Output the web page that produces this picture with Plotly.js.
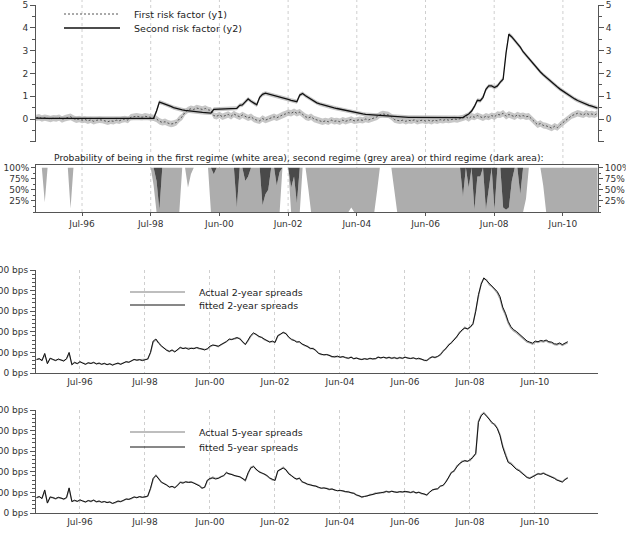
<!DOCTYPE html>
<html>
<head>
<meta charset="utf-8">
<script src="https://cdn.plot.ly/plotly-3.0.1.min.js"></script>
<style>
  html, body { margin: 0; padding: 0; background: #fff; }
  #chart { width: 626px; height: 551px; }
</style>
</head>
<body>
<div id="chart"></div>
<script>
// ---- data: monthly observations, March 1995 to July 2011 (197 months) ----
const startYear = 1995, startMonth = 3, monthCount = 197;

const tickDates  = ['1996-07-01','1998-07-01','2000-06-30','2002-06-30','2004-06-29','2006-06-29','2008-06-28','2010-06-28'];
const tickLabels = ['Jul-96','Jul-98','Jun-00','Jun-02','Jun-04','Jun-06','Jun-08','Jun-10'];

// first risk factor (y1)
const riskY1 = [
  0.05,0.08,0.02,0.06,0.03,0.00,0.04,0.02,0.06,-0.02,0.03,0.05,
  0.10,0.02,-0.03,0.00,-0.05,-0.02,-0.08,-0.04,-0.10,-0.06,-0.03,-0.05,
  -0.10,-0.12,-0.08,-0.10,-0.05,-0.08,-0.02,0.00,-0.05,0.08,0.10,0.12,
  0.10,0.08,0.12,0.10,0.08,0.05,0.00,-0.10,-0.15,-0.12,-0.18,-0.22,
  -0.20,-0.15,0.00,0.10,0.30,0.40,0.45,0.42,0.48,0.45,0.42,0.46,
  0.40,0.38,0.15,0.12,0.18,0.10,0.15,0.20,0.12,0.22,0.15,0.10,
  0.18,0.12,0.05,0.10,0.00,-0.05,-0.08,0.02,-0.05,0.00,0.05,0.10,
  0.05,0.12,0.18,0.22,0.28,0.25,0.32,0.25,0.30,0.20,0.10,0.05,
  0.10,0.00,-0.05,-0.10,-0.12,-0.08,-0.12,-0.05,-0.10,-0.08,-0.12,-0.05,
  -0.10,-0.06,-0.02,-0.08,-0.05,-0.03,-0.06,0.00,-0.04,0.02,0.05,0.10,
  0.18,0.22,0.20,0.18,0.10,-0.02,-0.06,-0.08,-0.05,-0.10,-0.06,-0.08,
  -0.04,-0.10,-0.07,-0.05,-0.09,-0.06,-0.10,-0.05,-0.08,-0.03,-0.06,-0.02,
  -0.05,-0.03,0.00,-0.02,0.00,0.05,0.10,0.02,0.12,0.08,0.15,0.10,
  0.05,0.12,0.08,0.15,0.10,0.20,0.18,0.25,0.12,0.20,0.15,0.10,
  0.18,0.12,0.15,0.10,0.12,0.00,-0.15,-0.25,-0.20,-0.28,-0.30,-0.35,
  -0.40,-0.32,-0.38,-0.25,-0.15,-0.05,0.05,0.15,0.20,0.25,0.22,0.18,
  0.25,0.20,0.22,0.18,0.25
];
// second risk factor (y2)
const riskY2 = [
  0.04,0.03,0.04,0.03,0.03,0.03,0.03,0.03,0.03,0.03,0.03,0.03,
  0.03,0.03,0.03,0.03,0.03,0.03,0.03,0.03,0.03,0.03,0.03,0.03,
  0.03,0.03,0.03,0.03,0.03,0.03,0.03,0.03,0.03,0.03,0.03,0.03,
  0.03,0.03,0.03,0.03,0.03,0.03,0.35,0.74,0.70,0.64,0.60,0.55,
  0.50,0.46,0.43,0.40,0.38,0.36,0.34,0.33,0.31,0.30,0.29,0.28,
  0.27,0.26,0.42,0.43,0.44,0.44,0.45,0.45,0.46,0.46,0.47,0.60,
  0.62,0.75,0.88,0.78,0.70,0.62,0.95,1.08,1.13,1.10,1.05,1.02,
  1.00,0.98,0.95,0.91,0.86,0.82,0.78,0.76,1.05,1.12,1.02,0.93,
  0.85,0.77,0.71,0.66,0.62,0.58,0.55,0.52,0.49,0.46,0.43,0.40,
  0.37,0.34,0.31,0.29,0.26,0.24,0.22,0.20,0.19,0.17,0.16,0.15,
  0.14,0.13,0.12,0.11,0.10,0.10,0.09,0.09,0.08,0.08,0.07,0.07,
  0.07,0.06,0.06,0.06,0.06,0.05,0.05,0.05,0.05,0.05,0.05,0.05,
  0.05,0.05,0.05,0.05,0.05,0.06,0.15,0.22,0.35,0.55,0.82,0.80,
  0.95,1.30,1.45,1.45,1.38,1.45,1.62,1.75,2.90,3.72,3.60,3.45,
  3.30,3.15,2.95,2.80,2.62,2.47,2.32,2.18,2.06,1.94,1.82,1.71,
  1.60,1.50,1.40,1.30,1.21,1.12,1.03,0.95,0.88,0.81,0.75,0.69,
  0.64,0.60,0.56,0.52,0.48
];
// half-width of the confidence bands
const bandY1 = 0.14, bandY2 = 0.09;

// regime probabilities: first regime and third regime (second = remainder)
const probRegime1 = [
  1,1,1,0.22,1,1,1,1,1,1,1,1,
  0.08,1,1,1,1,1,1,1,1,1,1,1,
  1,1,1,1,1,1,1,1,1,1,1,1,
  1,1,1,1,1,0.6,0,0,0,0,0,0,
  0,0,0,1,1,0.55,0.85,1,1,1,1,1,
  1,0,0,0,0,0,0,0,0,0,0,0,
  0,0,0,0,0,0,0,0,0,0,0,0,
  0,0,1,1,1,0,0,0,0,1,1,0.5,
  0,0,0,0,0,0,0,0,0,0,0,0,
  0,0,0.1,0,0,0,0,0,0,0,0,0.5,
  1,1,1,1,1,0.5,0,0,0,0,0,0,
  0,0,0,0,0,0,0,0,0,0,0,0,
  0,0,0,0,0,0,0,0,0,0,0,0,
  0,0,0,0,0,0,0,0,0,0,0,0,
  0,0,0,0.3,1,1,1,1,1,0.6,0,0,
  0,0,0,0,0,0,0,0,0,0,0,0,
  0,0,0,0,0
];
const probRegime3 = [
  0,0,0,0,0,0,0,0,0,0,0,0,
  0,0,0,0,0,0,0,0,0,0,0,0,
  0,0,0,0,0,0,0,0,0,0,0,0,
  0,0,0,0,0,0,0.3,0.95,0,0,0,0,
  0,0,0,0,0,0,0,0,0,0,0,0,
  0,0,0.15,0,0,0,0,0,0,0,0.9,0,
  0,0.3,0.2,0,0,0,0,0.85,0.6,0.5,0,0,
  0.4,0.1,0,0,0,0.45,0.2,0.8,0,0,0,0,
  0,0,0,0,0,0,0,0,0,0,0,0,
  0,0,0,0,0,0,0,0,0,0,0,0,
  0,0,0,0,0,0,0,0,0,0,0,0,
  0,0,0,0,0,0,0,0,0,0,0,0,
  0,0,0,0,0,0.65,0,0.45,0,0.95,0.2,0.2,
  0,0.95,0.45,0,0.95,0,0,0.9,0.95,0.9,0.3,0,
  0,0.6,0,0,0,0,0,0,0,0,0,0,
  0,0,0,0,0,0,0,0,0,0,0,0,
  0,0,0,0,0
];

// 2-year spreads (bps)
const actual2y = [
  66,68,62,90,48,70,65,62,66,63,60,68,
  95,42,50,47,53,49,44,48,47,50,45,47,
  43,46,42,44,40,43,47,44,48,54,53,58,
  65,63,64,62,63,67,98,150,160,148,130,122,
  112,104,110,104,112,122,120,120,117,118,120,122,
  118,118,114,116,128,134,134,128,136,142,150,162,
  164,165,170,168,152,140,156,178,192,188,176,174,
  162,158,152,152,150,178,190,195,192,172,164,155,
  152,150,142,132,130,118,120,108,97,90,90,88,
  86,78,80,80,78,78,76,70,78,68,74,66,
  67,68,68,70,70,68,78,72,78,71,77,70,
  76,69,76,70,78,71,72,72,70,70,67,60,
  62,70,80,74,82,88,108,118,138,145,163,175,
  198,206,222,212,225,236,305,376,436,458,452,428,
  420,405,388,360,310,280,242,218,204,196,184,170,
  160,150,146,140,150,148,154,150,156,148,146,138,
  136,142,134,141,148
];
const fitted2y = [
  65,70,60,95,45,72,66,60,68,62,58,70,
  100,40,52,45,55,48,42,50,46,52,44,48,
  42,47,40,45,38,44,48,42,50,55,52,60,
  66,62,65,60,64,68,100,155,165,145,132,120,
  110,105,112,102,115,125,118,122,115,120,118,124,
  120,116,112,118,130,136,132,130,138,145,152,165,
  162,168,172,165,150,138,160,182,195,185,178,172,
  165,160,150,155,148,182,188,198,190,175,162,158,
  150,152,140,135,128,120,118,110,95,92,88,90,
  84,80,78,82,76,80,74,72,76,70,72,68,
  65,70,66,72,68,70,76,74,76,73,75,72,
  74,71,74,72,76,73,70,74,68,72,65,62,
  60,72,78,76,80,90,105,120,135,148,160,178,
  195,210,218,215,222,240,300,380,430,462,448,435,
  425,412,395,370,320,290,250,225,210,202,190,175,
  165,155,150,145,155,152,158,155,160,152,150,142,
  140,146,138,145,152
];
// 5-year spreads (bps)
const actual5y = [
  74,78,72,108,50,76,75,68,75,73,66,74,
  118,57,60,58,62,59,52,61,55,63,54,57,
  53,55,52,52,48,50,57,56,60,67,67,70,
  77,75,78,77,76,81,116,164,184,168,148,144,
  134,127,128,124,133,150,148,150,150,152,146,140,
  134,122,124,156,166,174,168,170,178,180,198,188,
  188,180,180,174,168,156,192,222,228,210,202,192,
  190,180,172,160,160,202,212,222,208,192,180,172,
  163,170,150,147,138,138,132,132,124,122,120,120,
  113,118,110,110,108,108,102,104,98,97,86,84,
  76,82,82,90,90,97,95,100,98,106,100,107,
  101,102,102,104,103,103,98,105,96,102,93,92,
  86,102,110,117,116,132,133,152,172,198,202,228,
  236,252,250,254,255,274,286,446,476,488,474,456,
  436,432,412,380,326,286,250,242,228,215,208,195,
  183,174,170,178,188,192,190,195,188,182,178,170,
  162,157,152,164,172
];
const fitted5y = [
  75,80,70,112,48,78,74,70,76,72,68,75,
  122,55,62,56,64,58,54,60,57,62,55,58,
  52,56,50,54,46,52,58,55,62,68,66,72,
  78,74,80,76,78,82,120,168,182,165,150,142,
  136,125,130,122,135,148,145,152,148,150,145,138,
  132,120,125,160,168,170,165,168,175,182,195,190,
  185,182,178,176,165,158,195,218,225,212,200,195,
  188,182,170,162,158,205,210,218,210,190,182,170,
  165,168,152,145,140,136,134,130,125,120,122,118,
  115,116,112,108,110,106,104,102,100,95,88,82,
  78,80,84,88,92,95,97,98,100,104,102,105,
  103,100,104,102,105,101,100,103,98,100,95,90,
  88,100,112,115,118,130,135,150,175,195,205,225,
  240,248,255,250,258,270,290,440,472,484,470,452,
  440,428,410,375,320,280,245,238,225,212,205,192,
  180,172,168,175,185,190,188,192,186,180,176,168,
  160,155,150,162,170
];

const spreadTicks = [0, 100, 200, 300, 400, 500];

// ---- month axis ----
const months = [];
for (let i = 0; i < monthCount; i++) {
  const k = startMonth - 1 + i;
  const yr = startYear + Math.floor(k / 12);
  const mo = (k % 12) + 1;
  months.push(yr + '-' + String(mo).padStart(2, '0') + '-01');
}
const probRegime2 = probRegime1.map((p, i) => Math.max(0, 1 - p - probRegime3[i]));
const up = (arr, b) => arr.map(v => v + b);
const dn = (arr, b) => arr.map(v => v - b);

// ---- page geometry (pixels -> paper fractions) ----
const W = 626, H = 551;
const X = px => px / W;
const Y = px => 1 - px / H;
const FONT = 'DejaVu Sans';
const tickFont = { family: FONT, size: 9, color: '#333' };
const axisCol = '#555';
const bandCol = 'rgba(185,185,185,0.8)';
const xDom = [X(36), X(598)];
const topRange = ['1995-02-28', '2011-07-06'];
const lowRange = ['1995-02-23', '2012-06-05'];

const traces = [
  // confidence bands
  { x: months, y: dn(riskY1, bandY1), xaxis: 'x', yaxis: 'y', mode: 'lines', line: { width: 0 }, hoverinfo: 'skip', showlegend: false },
  { x: months, y: up(riskY1, bandY1), xaxis: 'x', yaxis: 'y', mode: 'lines', line: { width: 0 }, fill: 'tonexty', fillcolor: bandCol, hoverinfo: 'skip', showlegend: false },
  { x: months, y: dn(riskY2, bandY2), xaxis: 'x', yaxis: 'y', mode: 'lines', line: { width: 0 }, hoverinfo: 'skip', showlegend: false },
  { x: months, y: up(riskY2, bandY2), xaxis: 'x', yaxis: 'y', mode: 'lines', line: { width: 0 }, fill: 'tonexty', fillcolor: bandCol, hoverinfo: 'skip', showlegend: false },
  // risk factors
  { x: months, y: riskY1, xaxis: 'x', yaxis: 'y', mode: 'lines', name: 'First risk factor (y1)', line: { color: '#555', width: 1, dash: '2px,2px' }, showlegend: false },
  { x: months, y: riskY2, xaxis: 'x', yaxis: 'y', mode: 'lines', name: 'Second risk factor (y2)', line: { color: '#111', width: 1.3 }, showlegend: false },
  // right-hand scale of the risk-factor panel
  { x: [months[0]], y: [null], xaxis: 'x', yaxis: 'y2', mode: 'lines', hoverinfo: 'skip', showlegend: false },
  // regime probabilities (stacked: first, second, third)
  { x: months, y: probRegime1, xaxis: 'x4', yaxis: 'y3', mode: 'lines', stackgroup: 'reg', line: { width: 0 }, fillcolor: 'rgba(255,255,255,0)', showlegend: false },
  { x: months, y: probRegime2, xaxis: 'x4', yaxis: 'y3', mode: 'lines', stackgroup: 'reg', line: { width: 0 }, fillcolor: '#adadad', showlegend: false },
  { x: months, y: probRegime3, xaxis: 'x4', yaxis: 'y3', mode: 'lines', stackgroup: 'reg', line: { width: 0 }, fillcolor: '#4a4a4a', showlegend: false },
  // right-hand scale of the regime panel
  { x: [months[0]], y: [null], xaxis: 'x4', yaxis: 'y4', mode: 'lines', hoverinfo: 'skip', showlegend: false },
  // 2-year spreads
  { x: months, y: actual2y, xaxis: 'x2', yaxis: 'y5', mode: 'lines', name: 'Actual 2-year spreads', line: { color: '#a8a8a8', width: 1.4 }, showlegend: false },
  { x: months, y: fitted2y, xaxis: 'x2', yaxis: 'y5', mode: 'lines', name: 'fitted 2-year spreads', line: { color: '#111', width: 1 }, showlegend: false },
  // 5-year spreads
  { x: months, y: actual5y, xaxis: 'x3', yaxis: 'y6', mode: 'lines', name: 'Actual 5-year spreads', line: { color: '#a8a8a8', width: 1.4 }, showlegend: false },
  { x: months, y: fitted5y, xaxis: 'x3', yaxis: 'y6', mode: 'lines', name: 'fitted 5-year spreads', line: { color: '#111', width: 1 }, showlegend: false }
];

const riskAxis = side => ({
  range: [-1, 5], tickmode: 'linear', tick0: 0, dtick: 1,
  labelalias: { '-1': '', '\u22121': '' },
  ticks: 'outside', ticklen: 5, tickcolor: axisCol, tickfont: tickFont,
  minor: { dtick: 0.5, tick0: 0, ticks: 'outside', ticklen: 3, tickcolor: axisCol, showgrid: false },
  showline: true, linecolor: axisCol, linewidth: 1, showgrid: false, zeroline: false,
  side: side
});
const probAxis = side => ({
  range: [0, 1.06], tickmode: 'array', tickvals: [0.25, 0.5, 0.75, 1],
  ticktext: ['25%', '50%', '75%', '100%'],
  ticks: 'outside', ticklen: 4, tickcolor: axisCol, tickfont: tickFont,
  minor: { tickmode: 'linear', dtick: 0.125, tick0: 0, ticks: 'outside', ticklen: 2, tickcolor: axisCol, showgrid: false },
  showline: true, linecolor: axisCol, linewidth: 1, showgrid: false, zeroline: false,
  side: side
});
const spreadAxis = () => ({
  range: [0, 500], tickmode: 'array', tickvals: spreadTicks,
  ticktext: spreadTicks.map(v => v + ' bps'),
  ticks: 'outside', ticklen: 5, tickcolor: axisCol, tickfont: tickFont,
  minor: { tickmode: 'linear', dtick: 20, tick0: 0, ticks: 'outside', ticklen: 3, tickcolor: axisCol, showgrid: false },
  showline: true, linecolor: axisCol, linewidth: 1, showgrid: false, zeroline: false
});
const dateAxis = (range, extra) => Object.assign({
  domain: xDom, range: range, type: 'date',
  tickmode: 'array', tickvals: tickDates, ticktext: tickLabels, tickfont: tickFont,
  showgrid: false, zeroline: false
}, extra);

// dashed guides through the risk-factor and regime panels
const guides = tickDates.map(d => ({
  type: 'line', xref: 'x', yref: 'paper', x0: d, x1: d, y0: Y(212), y1: Y(0),
  line: { color: '#cfcfcf', width: 1, dash: '3px,3px' }, layer: 'below'
}));

// legend keys
const key = (x0, x1, y, color, width, dash) => ({
  type: 'line', xref: 'paper', yref: 'paper', x0: X(x0), x1: X(x1), y0: Y(y), y1: Y(y),
  line: { color: color, width: width, dash: dash || 'solid' }
});
const label = (x, y, text, size, anchor) => ({
  xref: 'paper', yref: 'paper', x: X(x), y: Y(y), text: text, showarrow: false,
  xanchor: anchor || 'left', yanchor: 'middle',
  font: { family: FONT, size: size || 9.5, color: '#222' }
});

const layout = {
  width: W, height: H,
  margin: { l: 0, r: 0, t: 0, b: 0 },
  paper_bgcolor: '#fff', plot_bgcolor: 'rgba(0,0,0,0)',
  showlegend: false,
  font: { family: FONT, size: 9, color: '#333' },
  xaxis: dateAxis(topRange, { anchor: 'y', showticklabels: false, ticks: '', showline: false }),
  xaxis4: dateAxis(topRange, { anchor: 'y3', ticks: 'outside', ticklen: 3, tickcolor: axisCol, showline: true, linecolor: axisCol, linewidth: 1, mirror: true }),
  xaxis2: dateAxis(lowRange, { anchor: 'y5', ticks: '', showline: true, linecolor: axisCol, linewidth: 1, showgrid: true, gridcolor: '#cfcfcf', griddash: '3px,3px', gridwidth: 1 }),
  xaxis3: dateAxis(lowRange, { anchor: 'y6', ticks: '', showline: true, linecolor: axisCol, linewidth: 1, showgrid: true, gridcolor: '#cfcfcf', griddash: '3px,3px', gridwidth: 1 }),
  yaxis: Object.assign(riskAxis('left'), { domain: [Y(141.8), Y(5)], anchor: 'x' }),
  yaxis2: Object.assign(riskAxis('right'), { overlaying: 'y', anchor: 'x' }),
  yaxis3: Object.assign(probAxis('left'), { domain: [Y(212), Y(165)], anchor: 'x4' }),
  yaxis4: Object.assign(probAxis('right'), { overlaying: 'y3', anchor: 'x4' }),
  yaxis5: Object.assign(spreadAxis(), { domain: [Y(373), Y(270)], anchor: 'x2' }),
  yaxis6: Object.assign(spreadAxis(), { domain: [Y(513), Y(410)], anchor: 'x3' }),
  shapes: guides.concat([
    key(64, 120, 14, '#555', 1, '2px,2px'),
    key(64, 120, 28, '#111', 1.3),
    key(130, 185, 292, '#a8a8a8', 1.4),
    key(130, 185, 305, '#111', 1),
    key(130, 185, 432, '#a8a8a8', 1.4),
    key(130, 185, 447, '#111', 1)
  ]),
  annotations: [
    label(132, 14, 'First risk factor (y1)'),
    label(132, 28, 'Second risk factor (y2)'),
    label(197, 292, 'Actual 2-year spreads'),
    label(197, 305, 'fitted 2-year spreads'),
    label(197, 432, 'Actual 5-year spreads'),
    label(197, 447, 'fitted 5-year spreads'),
    label(299, 157, 'Probability of being in the first regime (white area), second regime (grey area) or third regime (dark area):', 9.2, 'center')
  ]
};

Plotly.newPlot('chart', traces, layout, { staticPlot: true, displayModeBar: false });
</script>
</body>
</html>
